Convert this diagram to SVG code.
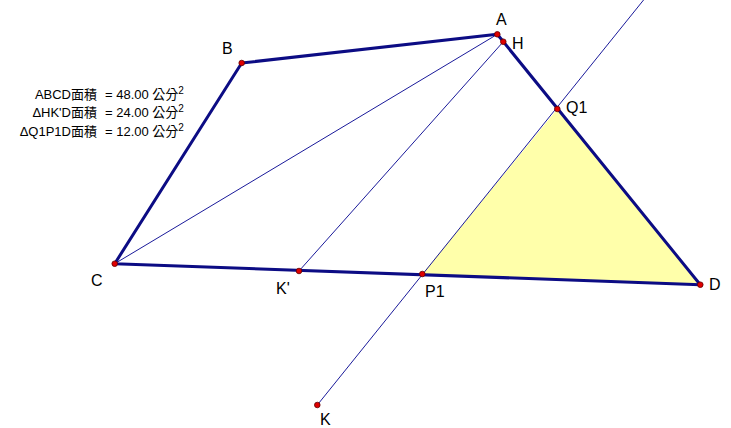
<svg xmlns="http://www.w3.org/2000/svg" width="731" height="428" viewBox="0 0 731 428">
<style>
.thick{stroke:#0c0c84;stroke-width:3;fill:none;stroke-linecap:round;stroke-linejoin:round}
.thin{stroke:#1a1a9a;stroke-width:1;fill:none}
.pt{fill:#e00000;stroke:#600000;stroke-width:0.8}
.lbl{font-family:"Liberation Sans",Arial,sans-serif;font-size:16px;fill:#000}
.m{font-family:"Liberation Sans","Noto Sans CJK TC",sans-serif;font-size:13px;fill:#000}
</style>
<rect width="731" height="428" fill="#fff"/>
<g id="triangle"><polygon points="557.3,109 422.3,274 700.3,284.7" fill="#ffffaa"/></g>
<g id="connectors">
<line class="thin" x1="497.3" y1="34.3" x2="114.7" y2="263.7"/>
<line class="thin" x1="503.3" y1="41.7" x2="299" y2="271"/>
<line class="thin" x1="317.3" y1="405" x2="650" y2="-8"/>
<polygon class="thick" points="497.3,34.3 241.7,63 114.7,263.7 700.3,284.7"/>
</g>
<g id="measures">
<text class="m" x="97" y="99" text-anchor="end">ABCD面積</text>
<text class="m" x="105" y="99">= 48.00 公分<tspan dy="-5" font-size="10">2</tspan></text>
<text class="m" x="97" y="117" text-anchor="end">ΔHK'D面積</text>
<text class="m" x="105" y="117">= 24.00 公分<tspan dy="-5" font-size="10">2</tspan></text>
<text class="m" x="97" y="136" text-anchor="end">ΔQ1P1D面積</text>
<text class="m" x="105" y="136">= 12.00 公分<tspan dy="-5" font-size="10">2</tspan></text>
</g>
<g id="A"><circle class="pt" cx="497.3" cy="34.3" r="2.8"/><text class="lbl" x="496" y="25">A</text></g>
<g id="H"><circle class="pt" cx="503.3" cy="41.7" r="2.8"/><text class="lbl" x="512" y="49">H</text></g>
<g id="B"><circle class="pt" cx="241.7" cy="63" r="2.8"/><text class="lbl" x="222" y="54">B</text></g>
<g id="Q1"><circle class="pt" cx="557.3" cy="109" r="2.8"/><text class="lbl" x="566" y="113">Q1</text></g>
<g id="C"><circle class="pt" cx="114.7" cy="263.7" r="2.8"/><text class="lbl" x="91" y="286">C</text></g>
<g id="Kp"><circle class="pt" cx="299" cy="271" r="2.8"/><text class="lbl" x="276" y="294">K'</text></g>
<g id="P1"><circle class="pt" cx="422.3" cy="274" r="2.8"/><text class="lbl" x="425" y="297">P1</text></g>
<g id="D"><circle class="pt" cx="700.3" cy="284.7" r="2.8"/><text class="lbl" x="709" y="290">D</text></g>
<g id="K"><circle class="pt" cx="317.3" cy="405" r="2.8"/><text class="lbl" x="320" y="425">K</text></g>
</svg>
